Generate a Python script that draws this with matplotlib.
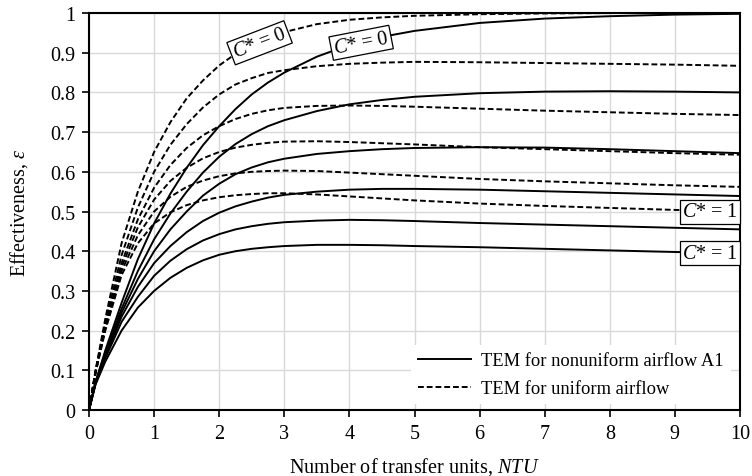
import matplotlib
matplotlib.use("Agg")
import matplotlib.pyplot as plt

plt.rcParams["font.family"] = "Liberation Serif"
plt.rcParams["mathtext.fontset"] = "custom"
plt.rcParams["mathtext.rm"] = "Liberation Serif"
plt.rcParams["mathtext.it"] = "Liberation Serif:italic"

# ---------------------------------------------------------------------------
# Data (effectiveness vs NTU)
# ---------------------------------------------------------------------------
ntu = [0, 0.1, 0.25, 0.5, 0.75, 1, 1.25, 1.5, 1.75, 2, 2.25, 2.5, 2.75, 3,
       3.5, 4, 4.5, 5, 6, 7, 8, 9, 10]

# TEM for nonuniform airflow A1 (C* = 0 ... 1)
solid_c0 = [0, 0.07, 0.15, 0.27, 0.38, 0.47, 0.545, 0.61, 0.667, 0.715, 0.758, 0.795, 0.825, 0.85,
            0.89, 0.92, 0.94, 0.955, 0.975, 0.986, 0.992, 0.996, 0.998]
solid_c1 = [0, 0.07, 0.145, 0.255, 0.35, 0.43, 0.495, 0.55, 0.598, 0.638, 0.67, 0.695, 0.715, 0.73,
            0.753, 0.77, 0.781, 0.789, 0.798, 0.802, 0.803, 0.802, 0.80]
solid_c2 = [0, 0.07, 0.14, 0.245, 0.33, 0.40, 0.455, 0.50, 0.54, 0.57, 0.594, 0.611, 0.624, 0.633,
            0.645, 0.652, 0.657, 0.66, 0.662, 0.661, 0.657, 0.652, 0.647]
solid_c3 = [0, 0.068, 0.135, 0.235, 0.31, 0.37, 0.413, 0.448, 0.476, 0.497, 0.513, 0.525, 0.535, 0.542,
            0.55, 0.555, 0.557, 0.557, 0.555, 0.551, 0.547, 0.543, 0.539]
solid_c4 = [0, 0.066, 0.13, 0.222, 0.285, 0.338, 0.376, 0.405, 0.427, 0.443, 0.455, 0.463, 0.469, 0.473,
            0.477, 0.479, 0.478, 0.476, 0.471, 0.467, 0.463, 0.459, 0.455]
solid_c5 = [0, 0.064, 0.122, 0.20, 0.258, 0.30, 0.333, 0.358, 0.377, 0.391, 0.4, 0.406, 0.41, 0.413,
            0.416, 0.416, 0.415, 0.413, 0.41, 0.406, 0.402, 0.398, 0.395]

# TEM for uniform airflow (C* = 0 ... 1)
dash_c0 = [0, 0.1, 0.23, 0.42, 0.55, 0.65, 0.725, 0.785, 0.83, 0.868, 0.897, 0.92, 0.937, 0.952,
           0.972, 0.983, 0.989, 0.993, 0.997, 0.999, 1.0, 1.0, 1.0]
dash_c1 = [0, 0.098, 0.22, 0.39, 0.51, 0.60, 0.668, 0.72, 0.762, 0.795, 0.82, 0.836, 0.849, 0.856,
           0.866, 0.872, 0.875, 0.877, 0.876, 0.874, 0.872, 0.87, 0.867]
dash_c2 = [0, 0.096, 0.215, 0.37, 0.48, 0.56, 0.617, 0.66, 0.692, 0.715, 0.733, 0.746, 0.755, 0.761,
           0.766, 0.767, 0.766, 0.764, 0.759, 0.754, 0.75, 0.746, 0.743]
dash_c3 = [0, 0.095, 0.21, 0.36, 0.46, 0.53, 0.577, 0.61, 0.634, 0.65, 0.661, 0.668, 0.673, 0.676,
           0.677, 0.675, 0.672, 0.669, 0.662, 0.657, 0.652, 0.647, 0.643]
dash_c4 = [0, 0.094, 0.205, 0.35, 0.44, 0.50, 0.537, 0.562, 0.578, 0.589, 0.596, 0.60, 0.602, 0.603,
           0.602, 0.598, 0.594, 0.59, 0.582, 0.576, 0.571, 0.566, 0.562]
dash_c5 = [0, 0.093, 0.20, 0.34, 0.42, 0.47, 0.498, 0.516, 0.528, 0.536, 0.541, 0.544, 0.546, 0.546,
           0.543, 0.538, 0.533, 0.528, 0.52, 0.514, 0.509, 0.504, 0.50]

solid_curves = [solid_c0, solid_c1, solid_c2, solid_c3, solid_c4, solid_c5]
dash_curves = [dash_c0, dash_c1, dash_c2, dash_c3, dash_c4, dash_c5]

legend_labels = ["TEM for nonuniform airflow A1", "TEM for uniform airflow"]

# ---------------------------------------------------------------------------
# Plot
# ---------------------------------------------------------------------------
fs = 14.5
fig = plt.figure(figsize=(7.52, 4.77), dpi=100)
ax = fig.add_axes([0.1184, 0.1384, 0.8656, 0.8322])

dash_style = (0, (3, 1.5))
for i, eps in enumerate(solid_curves):
    ax.plot(ntu, eps, color="black", lw=1.4, ls="-", solid_joinstyle="round",
            label=legend_labels[0] if i == 0 else None, zorder=3)
for i, eps in enumerate(dash_curves):
    ax.plot(ntu, eps, color="black", lw=1.4, ls=dash_style,
            label=legend_labels[1] if i == 0 else None, zorder=3)

ax.set_xlim(0, 10)
ax.set_ylim(0, 1)
ax.set_xticks(range(0, 11))
ax.set_yticks([i / 10 for i in range(11)])
ax.set_yticklabels(["0", "0.1", "0.2", "0.3", "0.4", "0.5", "0.6", "0.7", "0.8", "0.9", "1"])
ax.grid(True, color="#d9d9d9", lw=1.0, zorder=0)
ax.set_axisbelow(True)
ax.tick_params(direction="out", length=5, width=1.2, labelsize=fs, pad=5)
for sp in ax.spines.values():
    sp.set_linewidth(1.5)

ax.set_xlabel("Number of transfer units, $NTU$", fontsize=fs, labelpad=9)
ax.set_ylabel(r"Effectiveness, $\varepsilon$", fontsize=fs, labelpad=14)

box = dict(boxstyle="square,pad=0.12", facecolor="white", edgecolor="black", lw=0.9)
ax.text(2.62, 0.925, "$C$* = 0", fontsize=fs, rotation=21, ha="center", va="center",
        bbox=box, zorder=5)
ax.text(4.18, 0.925, "$C$* = 0", fontsize=fs, rotation=11, ha="center", va="center",
        bbox=box, zorder=5)
ax.text(9.97, 0.499, "$C$* = 1", fontsize=fs, ha="right", va="center", bbox=box, zorder=5)
ax.text(9.97, 0.395, "$C$* = 1", fontsize=fs, ha="right", va="center", bbox=box, zorder=5)

leg = ax.legend(loc="lower right", bbox_to_anchor=(0.995, 0.0), fontsize=13.3,
                handlelength=2.87, handletextpad=0.55, frameon=True, fancybox=False,
                framealpha=1, edgecolor="none", facecolor="white", borderaxespad=0.3,
                labelspacing=0.6)

fig.savefig("out.png", dpi=100)
